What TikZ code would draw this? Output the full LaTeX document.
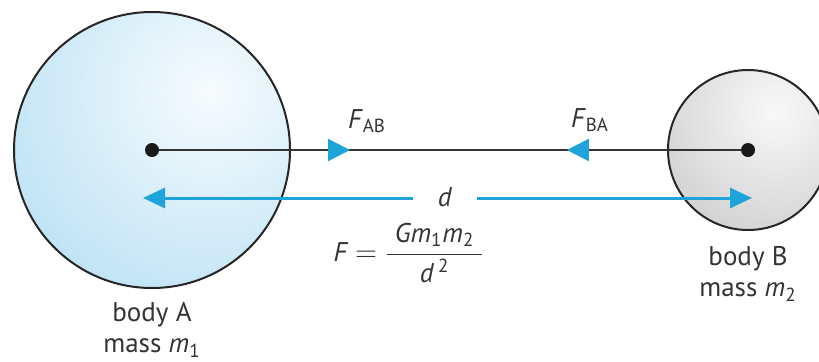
\documentclass[tikz,border=0pt]{standalone}
\usepackage{amsmath}
\usepackage{fontspec}
\setmainfont{PT Sans}
\usetikzlibrary{positioning,arrows.meta,decorations.markings}

\definecolor{bodyblue}{RGB}{172,219,242}
\definecolor{bodygrey}{RGB}{192,192,192}
\definecolor{arrowblue}{RGB}{30,164,216}
\newcommand{\lowidx}[1]{\textsubscript{\upshape #1}}

\begin{document}
\begin{tikzpicture}[x=0.5pt, y=-0.5pt,
    lbl/.style={font=\fontsize{13.5}{15.5}\selectfont, text=black!80, inner sep=1pt, align=center},
    centre/.style={circle, fill=black!90, inner sep=0pt, minimum size=7pt},
    forceline/.style={line width=1pt, black!80},
    distline/.style={line width=1.5pt, arrowblue, -{Triangle[length=11pt, width=10pt]}}
  ]
    \useasboundingbox (0,0) rectangle (819,361);

    % the two bodies
    \begin{scope}
      \clip (152,150) circle [radius=138];
      \shade[inner color=bodyblue!10!white, outer color=bodyblue] (210,92) circle [radius=300];
    \end{scope}
    \draw[line width=1pt, black!85] (152,150) circle [radius=138];
    \begin{scope}
      \clip (748,150) circle [radius=80];
      \shade[inner color=bodygrey!10!white, outer color=bodygrey] (775,112) circle [radius=190];
    \end{scope}
    \draw[line width=1pt, black!85] (748,150) circle [radius=80];

    \node[centre] (dotA) at (152,150) {};
    \node[centre] (dotB) at (748,150) {};

    % forces along the line of centres
    \draw[forceline, postaction={decorate}, decoration={markings,
        mark=at position 0.328 with {\arrow[arrowblue]{Triangle[length=11pt, width=11pt]}},
        mark=at position 0.701 with {\arrowreversed[arrowblue]{Triangle[length=11pt, width=11pt]}}}]
      (dotA) -- (dotB);
    \node[lbl] (fab) at (367,121) {\textit{F}\lowidx{AB}};
    \node[lbl] (fba) at (590,120) {\textit{F}\lowidx{BA}};

    % separation
    \node[lbl, minimum width=32pt] (dist) at (445,197) {\textit{d}};
    \coordinate (endA) at (143,198);
    \coordinate (endB) at (752,198);
    \draw[distline] (dist.west |- endA) -- (endA);
    \draw[distline] (dist.east |- endB) -- (endB);

    \node[lbl] (law) at (409,253)
      {$\text{\itshape F}\;{=}\;\dfrac{\text{\itshape\;Gm\lowidx{1}m\lowidx{2}\;}}{\text{\itshape d\,\textsuperscript{\upshape 2}}}$};

    \node[lbl] (labelA) at (152,330) {body A\\mass \textit{m}\lowidx{1}};
    \node[lbl] (labelB) at (748,274) {body B\\mass \textit{m}\lowidx{2}};
  \end{tikzpicture}
\end{document}
